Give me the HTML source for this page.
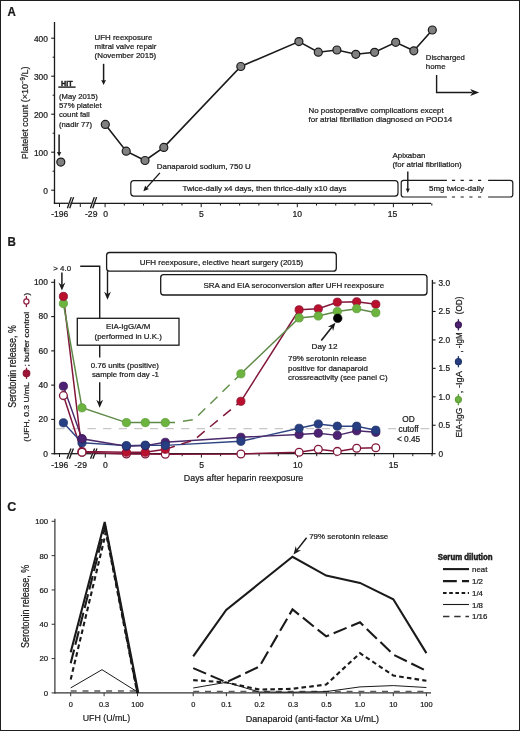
<!DOCTYPE html>
<html><head><meta charset="utf-8"><style>
html,body{margin:0;padding:0;background:#fff;}
svg{display:block;will-change:transform;}
text{font-family:"Liberation Sans", sans-serif;stroke:#1a1a1a;stroke-width:0.22px;}
</style></head><body>
<svg width="520" height="731" viewBox="0 0 520 731" font-family='"Liberation Sans", sans-serif' fill="#1a1a1a">
<rect x="0" y="0" width="520" height="731" fill="#fff"/>
<text x="7.5" y="15.9" font-size="11.9" font-weight="bold" textLength="8.3" lengthAdjust="spacingAndGlyphs" >A</text>
<line x1="54.5" y1="22" x2="54.5" y2="203.9" stroke="#1a1a1a" stroke-width="1.3" />
<line x1="51.2" y1="190.2" x2="54.5" y2="190.2" stroke="#1a1a1a" stroke-width="1.1" />
<text x="47.9" y="193.7" font-size="8.4" text-anchor="end" >0</text>
<line x1="51.2" y1="152.2" x2="54.5" y2="152.2" stroke="#1a1a1a" stroke-width="1.1" />
<text x="47.9" y="155.7" font-size="8.4" text-anchor="end" >100</text>
<line x1="51.2" y1="114.19999999999999" x2="54.5" y2="114.19999999999999" stroke="#1a1a1a" stroke-width="1.1" />
<text x="47.9" y="117.7" font-size="8.4" text-anchor="end" >200</text>
<line x1="51.2" y1="76.19999999999999" x2="54.5" y2="76.19999999999999" stroke="#1a1a1a" stroke-width="1.1" />
<text x="47.9" y="79.7" font-size="8.4" text-anchor="end" >300</text>
<line x1="51.2" y1="38.19999999999999" x2="54.5" y2="38.19999999999999" stroke="#1a1a1a" stroke-width="1.1" />
<text x="47.9" y="41.7" font-size="8.4" text-anchor="end" >400</text>
<line x1="52.6" y1="171.2" x2="54.5" y2="171.2" stroke="#1a1a1a" stroke-width="1.0" />
<line x1="52.6" y1="133.2" x2="54.5" y2="133.2" stroke="#1a1a1a" stroke-width="1.0" />
<line x1="52.6" y1="95.19999999999999" x2="54.5" y2="95.19999999999999" stroke="#1a1a1a" stroke-width="1.0" />
<line x1="52.6" y1="57.19999999999999" x2="54.5" y2="57.19999999999999" stroke="#1a1a1a" stroke-width="1.0" />
<text x="0" y="0" font-size="9.6" transform="translate(28.1 159.2) rotate(-90)" textLength="92.6" lengthAdjust="spacingAndGlyphs">Platelet count (×10<tspan dy="-3.4" font-size="6.6">−9</tspan><tspan dy="3.4">/L)</tspan></text>
<line x1="53.85" y1="203.3" x2="68.6" y2="203.3" stroke="#1a1a1a" stroke-width="1.3" />
<line x1="70.3" y1="203.3" x2="91.6" y2="203.3" stroke="#1a1a1a" stroke-width="1.3" />
<line x1="93.4" y1="203.3" x2="431" y2="203.3" stroke="#1a1a1a" stroke-width="1.3" />
<line x1="67.4" y1="208.3" x2="71.3" y2="197.1" stroke="#1a1a1a" stroke-width="1.35" />
<line x1="69.7" y1="208.3" x2="73.6" y2="197.1" stroke="#1a1a1a" stroke-width="1.35" />
<line x1="90.4" y1="208.3" x2="94.3" y2="197.1" stroke="#1a1a1a" stroke-width="1.35" />
<line x1="92.7" y1="208.3" x2="96.6" y2="197.1" stroke="#1a1a1a" stroke-width="1.35" />
<line x1="59.5" y1="203.3" x2="59.5" y2="207" stroke="#1a1a1a" stroke-width="1.0" />
<line x1="80.3" y1="203.3" x2="80.3" y2="207" stroke="#1a1a1a" stroke-width="1.0" />
<line x1="105.1" y1="203.3" x2="105.1" y2="207.2" stroke="#1a1a1a" stroke-width="1.0" />
<line x1="124.32" y1="203.3" x2="124.32" y2="205.6" stroke="#1a1a1a" stroke-width="1.0" />
<line x1="143.54" y1="203.3" x2="143.54" y2="205.6" stroke="#1a1a1a" stroke-width="1.0" />
<line x1="162.76" y1="203.3" x2="162.76" y2="205.6" stroke="#1a1a1a" stroke-width="1.0" />
<line x1="181.98" y1="203.3" x2="181.98" y2="205.6" stroke="#1a1a1a" stroke-width="1.0" />
<line x1="201.2" y1="203.3" x2="201.2" y2="207.2" stroke="#1a1a1a" stroke-width="1.0" />
<line x1="220.42" y1="203.3" x2="220.42" y2="205.6" stroke="#1a1a1a" stroke-width="1.0" />
<line x1="239.64" y1="203.3" x2="239.64" y2="205.6" stroke="#1a1a1a" stroke-width="1.0" />
<line x1="258.86" y1="203.3" x2="258.86" y2="205.6" stroke="#1a1a1a" stroke-width="1.0" />
<line x1="278.08" y1="203.3" x2="278.08" y2="205.6" stroke="#1a1a1a" stroke-width="1.0" />
<line x1="297.3" y1="203.3" x2="297.3" y2="207.2" stroke="#1a1a1a" stroke-width="1.0" />
<line x1="316.52" y1="203.3" x2="316.52" y2="205.6" stroke="#1a1a1a" stroke-width="1.0" />
<line x1="335.74" y1="203.3" x2="335.74" y2="205.6" stroke="#1a1a1a" stroke-width="1.0" />
<line x1="354.96" y1="203.3" x2="354.96" y2="205.6" stroke="#1a1a1a" stroke-width="1.0" />
<line x1="374.18" y1="203.3" x2="374.18" y2="205.6" stroke="#1a1a1a" stroke-width="1.0" />
<line x1="393.4" y1="203.3" x2="393.4" y2="207.2" stroke="#1a1a1a" stroke-width="1.0" />
<line x1="412.62" y1="203.3" x2="412.62" y2="205.6" stroke="#1a1a1a" stroke-width="1.0" />
<line x1="431.84" y1="203.3" x2="431.84" y2="205.6" stroke="#1a1a1a" stroke-width="1.0" />
<text x="59.8" y="217.2" font-size="8.6" text-anchor="middle" >-196</text>
<text x="91.2" y="217.2" font-size="8.6" text-anchor="middle" >-29</text>
<text x="105.6" y="217.2" font-size="8.6" text-anchor="middle" >0</text>
<text x="201.3" y="217.2" font-size="8.6" text-anchor="middle" >5</text>
<text x="297.3" y="217.2" font-size="8.6" text-anchor="middle" >10</text>
<text x="392.5" y="217.2" font-size="8.6" text-anchor="middle" >15</text>
<text x="94.6" y="39.9" font-size="7.9" textLength="57.7" lengthAdjust="spacingAndGlyphs" >UFH reexposure</text>
<text x="94.6" y="49.2" font-size="7.9" textLength="61.9" lengthAdjust="spacingAndGlyphs" >mitral valve repair</text>
<text x="94.6" y="58.2" font-size="7.9" textLength="61.6" lengthAdjust="spacingAndGlyphs" >(November 2015)</text>
<line x1="103.6" y1="63.8" x2="103.6" y2="82.0" stroke="#1a1a1a" stroke-width="1.5" />
<path d="M103.60,85.00 L101.20,80.00 L103.60,80.40 L106.00,80.00 Z" fill="#1a1a1a"/>
<text x="61" y="85.6" font-size="8.0" font-weight="bold" textLength="11.5" lengthAdjust="spacingAndGlyphs" style="stroke-width:0.45px">HIT</text>
<line x1="58.3" y1="87.1" x2="75.6" y2="87.1" stroke="#1a1a1a" stroke-width="1.4" />
<text x="59" y="98.6" font-size="7.9" textLength="38.9" lengthAdjust="spacingAndGlyphs" >(May 2015)</text>
<text x="59" y="108.0" font-size="7.9" textLength="42.7" lengthAdjust="spacingAndGlyphs" >57% platelet</text>
<text x="59" y="117.3" font-size="7.9" textLength="30.8" lengthAdjust="spacingAndGlyphs" >count fall</text>
<text x="59" y="126.7" font-size="7.9" textLength="33.1" lengthAdjust="spacingAndGlyphs" >(nadir 77)</text>
<line x1="59.1" y1="134.5" x2="59.1" y2="153.84" stroke="#1a1a1a" stroke-width="1.5" />
<path d="M59.10,156.60 L56.90,152.00 L59.10,152.37 L61.30,152.00 Z" fill="#1a1a1a"/>
<polyline points="105.3,124.4 126.2,151.2 145,160.5 163.8,147.4 240.8,66.5 298.9,41.6 318.3,52.2 336.9,50.0 355.8,54.3 374.6,52.3 395.7,42.3 413.8,50.8 432.3,30.0" fill="none" stroke="#1a1a1a" stroke-width="1.6" stroke-linejoin="miter" />
<circle cx="60.8" cy="162.1" r="4" fill="#808080" stroke="#1a1a1a" stroke-width="1.2"/>
<circle cx="105.3" cy="124.4" r="4" fill="#808080" stroke="#1a1a1a" stroke-width="1.2"/>
<circle cx="126.2" cy="151.2" r="4" fill="#808080" stroke="#1a1a1a" stroke-width="1.2"/>
<circle cx="145" cy="160.5" r="4" fill="#808080" stroke="#1a1a1a" stroke-width="1.2"/>
<circle cx="163.8" cy="147.4" r="4" fill="#808080" stroke="#1a1a1a" stroke-width="1.2"/>
<circle cx="240.8" cy="66.5" r="4" fill="#808080" stroke="#1a1a1a" stroke-width="1.2"/>
<circle cx="298.9" cy="41.6" r="4" fill="#808080" stroke="#1a1a1a" stroke-width="1.2"/>
<circle cx="318.3" cy="52.2" r="4" fill="#808080" stroke="#1a1a1a" stroke-width="1.2"/>
<circle cx="336.9" cy="50.0" r="4" fill="#808080" stroke="#1a1a1a" stroke-width="1.2"/>
<circle cx="355.8" cy="54.3" r="4" fill="#808080" stroke="#1a1a1a" stroke-width="1.2"/>
<circle cx="374.6" cy="52.3" r="4" fill="#808080" stroke="#1a1a1a" stroke-width="1.2"/>
<circle cx="395.7" cy="42.3" r="4" fill="#808080" stroke="#1a1a1a" stroke-width="1.2"/>
<circle cx="413.8" cy="50.8" r="4" fill="#808080" stroke="#1a1a1a" stroke-width="1.2"/>
<circle cx="432.3" cy="30.0" r="4" fill="#808080" stroke="#1a1a1a" stroke-width="1.2"/>
<text x="425.8" y="59.7" font-size="7.9" textLength="39.1" lengthAdjust="spacingAndGlyphs" >Discharged</text>
<text x="425.8" y="68.8" font-size="7.9" >home</text>
<polyline points="436.6,75 436.6,92.5 472,92.5" fill="none" stroke="#1a1a1a" stroke-width="1.4" stroke-linejoin="miter" />
<path d="M479.2,92.5 L470.2,89.0 L472.6,92.5 L470.2,96.0 Z" fill="#1a1a1a"/>
<text x="308.5" y="113.1" font-size="7.9" textLength="135.2" lengthAdjust="spacingAndGlyphs" >No postoperative complications except</text>
<text x="308.5" y="122.3" font-size="7.9" textLength="143.8" lengthAdjust="spacingAndGlyphs" >for atrial fibrillation diagnosed on POD14</text>
<text x="156.8" y="169.3" font-size="7.9" >Danaparoid sodium, 750 U</text>
<line x1="159.9" y1="172.9" x2="145.60315379452445" y2="188.84314970792428" stroke="#1a1a1a" stroke-width="1.4" />
<path d="M143.40,191.30 L145.14,185.47 L146.52,187.82 L149.01,188.94 Z" fill="#1a1a1a"/>
<rect x="130.8" y="180.7" width="267.2" height="15.4" rx="3" fill="none" stroke="#1a1a1a" stroke-width="1.2"/>
<text x="182.5" y="191.3" font-size="7.9" textLength="163.9" lengthAdjust="spacingAndGlyphs" >Twice-daily x4 days, then thrice-daily x10 days</text>
<text x="392.5" y="158.0" font-size="7.9" >Apixaban</text>
<text x="392.5" y="166.6" font-size="7.9" textLength="69.2" lengthAdjust="spacingAndGlyphs" >(for atrial fibrillation)</text>
<line x1="407.8" y1="171.5" x2="407.8" y2="190.24" stroke="#1a1a1a" stroke-width="1.4" />
<path d="M407.80,193.00 L405.80,188.40 L407.80,188.77 L409.80,188.40 Z" fill="#1a1a1a"/>
<path d="M446.9,180.3 L403.7,180.3 Q401.2,180.3 401.2,182.8 L401.2,194.5 Q401.2,197.0 403.7,197.0 L446.9,197.0" fill="none" stroke="#1a1a1a" stroke-width="1.2"/>
<path d="M488.1,180.3 L510.29999999999995,180.3 Q512.8,180.3 512.8,182.8 L512.8,194.5 Q512.8,197.0 510.29999999999995,197.0 L488.1,197.0" fill="none" stroke="#1a1a1a" stroke-width="1.2"/>
<path d="M451.9,180.3 H482 M451.9,197.0 H482" fill="none" stroke="#1a1a1a" stroke-width="1.2" stroke-dasharray="3.2 5.5"/>
<text x="429" y="191.3" font-size="7.9" textLength="55" lengthAdjust="spacingAndGlyphs" >5mg twice-daily</text>
<text x="7.4" y="246.1" font-size="12.6" font-weight="bold" textLength="8.4" lengthAdjust="spacingAndGlyphs" >B</text>
<line x1="54.5" y1="279.2" x2="54.5" y2="454.34999999999997" stroke="#1a1a1a" stroke-width="1.3" />
<line x1="51.2" y1="453.7" x2="54.5" y2="453.7" stroke="#1a1a1a" stroke-width="1.1" />
<text x="47.9" y="456.6" font-size="8.4" text-anchor="end" >0</text>
<line x1="51.2" y1="419.42" x2="54.5" y2="419.42" stroke="#1a1a1a" stroke-width="1.1" />
<text x="47.9" y="422.32" font-size="8.4" text-anchor="end" >20</text>
<line x1="51.2" y1="385.14" x2="54.5" y2="385.14" stroke="#1a1a1a" stroke-width="1.1" />
<text x="47.9" y="388.04" font-size="8.4" text-anchor="end" >40</text>
<line x1="51.2" y1="350.86" x2="54.5" y2="350.86" stroke="#1a1a1a" stroke-width="1.1" />
<text x="47.9" y="353.76" font-size="8.4" text-anchor="end" >60</text>
<line x1="51.2" y1="316.58" x2="54.5" y2="316.58" stroke="#1a1a1a" stroke-width="1.1" />
<text x="47.9" y="319.48" font-size="8.4" text-anchor="end" >80</text>
<line x1="51.2" y1="282.3" x2="54.5" y2="282.3" stroke="#1a1a1a" stroke-width="1.1" />
<text x="47.9" y="285.2" font-size="8.4" text-anchor="end" >100</text>
<line x1="432.4" y1="279.9" x2="432.4" y2="454.34999999999997" stroke="#1a1a1a" stroke-width="1.3" />
<line x1="432.4" y1="453.7" x2="435.59999999999997" y2="453.7" stroke="#1a1a1a" stroke-width="1.1" />
<text x="438.5" y="456.65" font-size="8.3" >0</text>
<line x1="432.4" y1="425.25" x2="435.59999999999997" y2="425.25" stroke="#1a1a1a" stroke-width="1.1" />
<text x="438.5" y="428.2" font-size="8.3" >0.5</text>
<line x1="432.4" y1="396.8" x2="435.59999999999997" y2="396.8" stroke="#1a1a1a" stroke-width="1.1" />
<text x="438.5" y="399.75" font-size="8.3" >1.0</text>
<line x1="432.4" y1="368.35" x2="435.59999999999997" y2="368.35" stroke="#1a1a1a" stroke-width="1.1" />
<text x="438.5" y="371.3" font-size="8.3" >1.5</text>
<line x1="432.4" y1="339.9" x2="435.59999999999997" y2="339.9" stroke="#1a1a1a" stroke-width="1.1" />
<text x="438.5" y="342.85" font-size="8.3" >2.0</text>
<line x1="432.4" y1="311.45" x2="435.59999999999997" y2="311.45" stroke="#1a1a1a" stroke-width="1.1" />
<text x="438.5" y="314.4" font-size="8.3" >2.5</text>
<line x1="432.4" y1="283.0" x2="435.59999999999997" y2="283.0" stroke="#1a1a1a" stroke-width="1.1" />
<text x="438.5" y="285.95" font-size="8.3" >3.0</text>
<line x1="53.85" y1="453.7" x2="68.6" y2="453.7" stroke="#1a1a1a" stroke-width="1.3" />
<line x1="70.3" y1="453.7" x2="91.6" y2="453.7" stroke="#1a1a1a" stroke-width="1.3" />
<line x1="93.4" y1="453.7" x2="432.4" y2="453.7" stroke="#1a1a1a" stroke-width="1.3" />
<line x1="67.0" y1="458.8" x2="71.0" y2="448.5" stroke="#1a1a1a" stroke-width="1.35" />
<line x1="69.4" y1="458.8" x2="73.4" y2="448.5" stroke="#1a1a1a" stroke-width="1.35" />
<line x1="90.5" y1="458.8" x2="94.6" y2="448.5" stroke="#1a1a1a" stroke-width="1.35" />
<line x1="92.9" y1="458.8" x2="97.0" y2="448.5" stroke="#1a1a1a" stroke-width="1.35" />
<line x1="59.5" y1="453.7" x2="59.5" y2="457" stroke="#1a1a1a" stroke-width="1.0" />
<line x1="105.3" y1="453.7" x2="105.3" y2="457.6" stroke="#1a1a1a" stroke-width="1.0" />
<line x1="124.52" y1="453.7" x2="124.52" y2="456.2" stroke="#1a1a1a" stroke-width="1.0" />
<line x1="143.74" y1="453.7" x2="143.74" y2="456.2" stroke="#1a1a1a" stroke-width="1.0" />
<line x1="162.96" y1="453.7" x2="162.96" y2="456.2" stroke="#1a1a1a" stroke-width="1.0" />
<line x1="182.18" y1="453.7" x2="182.18" y2="456.2" stroke="#1a1a1a" stroke-width="1.0" />
<line x1="201.4" y1="453.7" x2="201.4" y2="457.6" stroke="#1a1a1a" stroke-width="1.0" />
<line x1="220.62" y1="453.7" x2="220.62" y2="456.2" stroke="#1a1a1a" stroke-width="1.0" />
<line x1="239.84" y1="453.7" x2="239.84" y2="456.2" stroke="#1a1a1a" stroke-width="1.0" />
<line x1="259.06" y1="453.7" x2="259.06" y2="456.2" stroke="#1a1a1a" stroke-width="1.0" />
<line x1="278.28" y1="453.7" x2="278.28" y2="456.2" stroke="#1a1a1a" stroke-width="1.0" />
<line x1="297.5" y1="453.7" x2="297.5" y2="457.6" stroke="#1a1a1a" stroke-width="1.0" />
<line x1="316.72" y1="453.7" x2="316.72" y2="456.2" stroke="#1a1a1a" stroke-width="1.0" />
<line x1="335.94" y1="453.7" x2="335.94" y2="456.2" stroke="#1a1a1a" stroke-width="1.0" />
<line x1="355.16" y1="453.7" x2="355.16" y2="456.2" stroke="#1a1a1a" stroke-width="1.0" />
<line x1="374.38" y1="453.7" x2="374.38" y2="456.2" stroke="#1a1a1a" stroke-width="1.0" />
<line x1="393.6" y1="453.7" x2="393.6" y2="457.6" stroke="#1a1a1a" stroke-width="1.0" />
<line x1="412.82" y1="453.7" x2="412.82" y2="456.2" stroke="#1a1a1a" stroke-width="1.0" />
<line x1="432.04" y1="453.7" x2="432.04" y2="456.2" stroke="#1a1a1a" stroke-width="1.0" />
<text x="59.8" y="467.8" font-size="8.6" text-anchor="middle" >-196</text>
<text x="80.7" y="467.8" font-size="8.6" text-anchor="middle" >-29</text>
<text x="105.3" y="467.8" font-size="8.6" text-anchor="middle" >0</text>
<text x="201.6" y="467.8" font-size="8.6" text-anchor="middle" >5</text>
<text x="297.8" y="467.8" font-size="8.6" text-anchor="middle" >10</text>
<text x="393.5" y="467.8" font-size="8.6" text-anchor="middle" >15</text>
<text x="183.8" y="481.3" font-size="9.9" textLength="119.5" lengthAdjust="spacingAndGlyphs" >Days after heparin reexposure</text>
<text x="0" y="0" font-size="10.2" transform="translate(16.0 407.8) rotate(-90)" textLength="82.6" lengthAdjust="spacingAndGlyphs">Serotonin release, %</text>
<text x="0" y="0" font-size="8.0" transform="translate(29.3 441.7) rotate(-90)" textLength="59.4" lengthAdjust="spacingAndGlyphs">(UFH, 0.3 U/mL</text>
<text x="0" y="0" font-size="8.0" transform="translate(29.3 366.4) rotate(-90)" textLength="54.6" lengthAdjust="spacingAndGlyphs">; buffer control</text>
<text x="0" y="0" font-size="8.0" transform="translate(29.3 295.4) rotate(-90)">)</text>
<line x1="26.5" y1="367.7" x2="26.5" y2="378.90000000000003" stroke="#8a1534" stroke-width="1.3" />
<circle cx="26.5" cy="373.3" r="3.3" fill="#a01434" stroke="#8a1534" stroke-width="1.2"/>
<line x1="26.4" y1="295.9" x2="26.4" y2="307.1" stroke="#8e1f40" stroke-width="1.3" />
<circle cx="26.4" cy="301.5" r="2.6" fill="#fff" stroke="#8e1f40" stroke-width="1.2"/>
<text x="0" y="0" font-size="8.5" transform="translate(462 437.6) rotate(-90)" textLength="29.8" lengthAdjust="spacingAndGlyphs">EIA-IgG</text>
<text x="0" y="0" font-size="8.5" transform="translate(462 393.2) rotate(-90)" textLength="22" lengthAdjust="spacingAndGlyphs">, -IgA</text>
<text x="0" y="0" font-size="8.5" transform="translate(462 352.6) rotate(-90)" textLength="20.2" lengthAdjust="spacingAndGlyphs">, -IgM</text>
<text x="0" y="0" font-size="8.5" transform="translate(462 314.2) rotate(-90)" textLength="17.6" lengthAdjust="spacingAndGlyphs">(OD)</text>
<line x1="458.4" y1="394.0" x2="458.4" y2="405.20000000000005" stroke="#5f9e3a" stroke-width="1.3" />
<circle cx="458.4" cy="399.6" r="3.0" fill="#6cb33f" stroke="#5f9e3a" stroke-width="1.2"/>
<line x1="458.4" y1="356.09999999999997" x2="458.4" y2="367.3" stroke="#1f3469" stroke-width="1.3" />
<circle cx="458.4" cy="361.7" r="3.0" fill="#273f82" stroke="#1f3469" stroke-width="1.2"/>
<line x1="458.4" y1="319.2" x2="458.4" y2="330.40000000000003" stroke="#3b1958" stroke-width="1.3" />
<circle cx="458.4" cy="324.8" r="3.0" fill="#4d2272" stroke="#3b1958" stroke-width="1.2"/>
<path d="M56.3,428.7 H372" stroke="#c8c8c8" stroke-width="1.3" stroke-dasharray="8.3 7.3" fill="none"/>
<path d="M388.2,428.7 H396.2 M420.5,428.7 H429.2" stroke="#c8c8c8" stroke-width="1.3" fill="none"/>
<text x="408.6" y="421.9" font-size="8.3" text-anchor="middle" >OD</text>
<text x="408.6" y="431.9" font-size="8.3" text-anchor="middle" >cutoff</text>
<text x="408.6" y="441.9" font-size="8.3" text-anchor="middle" >&lt; 0.45</text>
<polyline points="80.2,266.3 99.7,266.3 99.7,318.2" fill="none" stroke="#1a1a1a" stroke-width="1.4" stroke-linejoin="miter" />
<line x1="99.7" y1="345" x2="99.7" y2="357.5" stroke="#1a1a1a" stroke-width="1.4" />
<line x1="99.7" y1="382.2" x2="99.7" y2="403.0" stroke="#1a1a1a" stroke-width="1.4" />
<path d="M99.70,407.80 L96.30,399.80 L99.70,402.36 L103.10,399.80 Z" fill="#1a1a1a"/>
<rect x="77.3" y="318.3" width="101.7" height="26.9" fill="#fff" stroke="#1a1a1a" stroke-width="1.3"/>
<text x="128.2" y="328.9" font-size="7.9" text-anchor="middle" textLength="44.5" lengthAdjust="spacingAndGlyphs" >EIA-IgG/A/M</text>
<text x="128.2" y="338.9" font-size="7.9" text-anchor="middle" textLength="67.2" lengthAdjust="spacingAndGlyphs" >(performed in U.K.)</text>
<text x="124.9" y="367.7" font-size="7.9" text-anchor="middle" textLength="68.1" lengthAdjust="spacingAndGlyphs" >0.76 units (positive)</text>
<text x="125.4" y="377.4" font-size="7.9" text-anchor="middle" textLength="67" lengthAdjust="spacingAndGlyphs" >sample from day -1</text>
<text x="62.2" y="270.7" font-size="7.9" text-anchor="middle" >&gt; 4.0</text>
<line x1="61.9" y1="272.6" x2="61.9" y2="285.8" stroke="#1a1a1a" stroke-width="1.5" />
<path d="M61.90,290.60 L58.50,282.60 L61.90,285.16 L65.30,282.60 Z" fill="#1a1a1a"/>
<rect x="106.6" y="252.5" width="229.7" height="18.7" rx="3" fill="#fff" stroke="#1a1a1a" stroke-width="1.3"/>
<text x="221.5" y="264.5" font-size="7.9" text-anchor="middle" textLength="163.5" lengthAdjust="spacingAndGlyphs" >UFH reexposure, elective heart surgery (2015)</text>
<line x1="107.5" y1="271.2" x2="107.5" y2="295.0" stroke="#1a1a1a" stroke-width="1.4" />
<path d="M107.50,299.80 L104.10,291.80 L107.50,294.36 L110.90,291.80 Z" fill="#1a1a1a"/>
<rect x="160.7" y="274.7" width="266.3" height="20.3" rx="3" fill="#fff" stroke="#1a1a1a" stroke-width="1.3"/>
<text x="293.8" y="287.6" font-size="7.9" text-anchor="middle" textLength="180.7" lengthAdjust="spacingAndGlyphs" >SRA and EIA seroconversion after UFH reexposure</text>
<text x="324.5" y="348.9" font-size="7.9" text-anchor="middle" textLength="26" lengthAdjust="spacingAndGlyphs" >Day 12</text>
<line x1="321.3" y1="340.4" x2="332.409230368668" y2="326.4543703882678" stroke="#1a1a1a" stroke-width="1.6" />
<path d="M335.40,322.70 L333.07,331.08 L332.01,326.95 L327.76,326.84 Z" fill="#1a1a1a"/>
<text x="288.1" y="361.3" font-size="7.9" >79% serotonin release</text>
<text x="288.1" y="370.6" font-size="7.9" >positive for danaparoid</text>
<text x="288.1" y="379.8" font-size="7.9" >crossreactivity (see panel C)</text>
<polyline points="63.4,395.6 82.0,452.3 126.4,454.0 145.3,454.0 165.3,454.2 240.9,454.0 299.1,452.3 318.3,449.2 337.3,451.4 356.7,448.3 375.8,447.8" fill="none" stroke="#82163a" stroke-width="1.5" stroke-linejoin="miter" />
<polyline points="63.4,422.8 82.0,442.8 126.4,445.6 145.3,445.2 165.3,445.4 240.9,441.3 299.1,428.3 318.3,424.0 337.3,426.2 356.7,426.2 375.8,430.2" fill="none" stroke="#2f4583" stroke-width="1.4" stroke-linejoin="miter" />
<polyline points="63.4,386.2 82.0,438.8 126.4,446.3 145.3,445.6 165.3,442.3 240.9,437.3 299.1,434.5 318.3,433.2 337.3,435.4 356.7,430.8 375.8,432.3" fill="none" stroke="#4b2a6c" stroke-width="1.4" stroke-linejoin="miter" />
<polyline points="63.4,296.4 82.0,451.5 126.4,452.3 145.3,452.3 165.3,449.3" fill="none" stroke="#82163a" stroke-width="1.5" stroke-linejoin="miter" />
<polyline points="240.9,401.3 299.1,309.8 318.3,308.8 337.3,302.2 356.7,301.8 375.8,304.3" fill="none" stroke="#82163a" stroke-width="1.5" stroke-linejoin="miter" />
<polyline points="165.3,449.3 194,440 240.9,401.3" fill="none" stroke="#801a3c" stroke-width="1.5" stroke-linejoin="miter" stroke-dasharray="10 7"/>
<polyline points="63.4,303.5 82.0,407.8 126.4,422.6 145.3,422.6 165.3,422.6 175,422.4" fill="none" stroke="#5e8a47" stroke-width="1.5" stroke-linejoin="miter" />
<polyline points="175,422.4 194,419.6 240.9,373.8" fill="none" stroke="#63904c" stroke-width="1.5" stroke-linejoin="miter" stroke-dasharray="0 8 10 7 10 7 10 7 10 7 10 7"/>
<polyline points="240.9,373.8 299.1,317.9 318.3,316.0 337.3,311.5 356.7,308.7 375.8,312.7" fill="none" stroke="#5e8a47" stroke-width="1.5" stroke-linejoin="miter" />
<circle cx="63.4" cy="395.6" r="3.9" fill="#fff" stroke="#82163a" stroke-width="1.3"/>
<circle cx="82.0" cy="452.3" r="3.9" fill="#fff" stroke="#82163a" stroke-width="1.3"/>
<circle cx="126.4" cy="454.0" r="3.9" fill="#fff" stroke="#82163a" stroke-width="1.3"/>
<circle cx="145.3" cy="454.0" r="3.9" fill="#fff" stroke="#82163a" stroke-width="1.3"/>
<circle cx="165.3" cy="454.2" r="3.9" fill="#fff" stroke="#82163a" stroke-width="1.3"/>
<circle cx="240.9" cy="454.0" r="3.9" fill="#fff" stroke="#82163a" stroke-width="1.3"/>
<circle cx="299.1" cy="452.3" r="3.9" fill="#fff" stroke="#82163a" stroke-width="1.3"/>
<circle cx="318.3" cy="449.2" r="3.9" fill="#fff" stroke="#82163a" stroke-width="1.3"/>
<circle cx="337.3" cy="451.4" r="3.9" fill="#fff" stroke="#82163a" stroke-width="1.3"/>
<circle cx="356.7" cy="448.3" r="3.9" fill="#fff" stroke="#82163a" stroke-width="1.3"/>
<circle cx="375.8" cy="447.8" r="3.9" fill="#fff" stroke="#82163a" stroke-width="1.3"/>
<circle cx="82.0" cy="451.5" r="4.1" fill="#b8102d" stroke="#8c1434" stroke-width="0.8"/>
<circle cx="126.4" cy="452.3" r="4.1" fill="#b8102d" stroke="#8c1434" stroke-width="0.8"/>
<circle cx="145.3" cy="452.3" r="4.1" fill="#b8102d" stroke="#8c1434" stroke-width="0.8"/>
<circle cx="165.3" cy="449.3" r="4.1" fill="#b8102d" stroke="#8c1434" stroke-width="0.8"/>
<circle cx="240.9" cy="401.3" r="4.1" fill="#b8102d" stroke="#8c1434" stroke-width="0.8"/>
<circle cx="299.1" cy="309.8" r="4.1" fill="#b8102d" stroke="#8c1434" stroke-width="0.8"/>
<circle cx="318.3" cy="308.8" r="4.1" fill="#b8102d" stroke="#8c1434" stroke-width="0.8"/>
<circle cx="337.3" cy="302.2" r="4.1" fill="#b8102d" stroke="#8c1434" stroke-width="0.8"/>
<circle cx="356.7" cy="301.8" r="4.1" fill="#b8102d" stroke="#8c1434" stroke-width="0.8"/>
<circle cx="375.8" cy="304.3" r="4.1" fill="#b8102d" stroke="#8c1434" stroke-width="0.8"/>
<circle cx="63.4" cy="386.2" r="4.1" fill="#4d2272" stroke="#3b1958" stroke-width="0.8"/>
<circle cx="82.0" cy="438.8" r="4.1" fill="#4d2272" stroke="#3b1958" stroke-width="0.8"/>
<circle cx="126.4" cy="446.3" r="4.1" fill="#4d2272" stroke="#3b1958" stroke-width="0.8"/>
<circle cx="145.3" cy="445.6" r="4.1" fill="#4d2272" stroke="#3b1958" stroke-width="0.8"/>
<circle cx="165.3" cy="442.3" r="4.1" fill="#4d2272" stroke="#3b1958" stroke-width="0.8"/>
<circle cx="240.9" cy="437.3" r="4.1" fill="#4d2272" stroke="#3b1958" stroke-width="0.8"/>
<circle cx="299.1" cy="434.5" r="4.1" fill="#4d2272" stroke="#3b1958" stroke-width="0.8"/>
<circle cx="318.3" cy="433.2" r="4.1" fill="#4d2272" stroke="#3b1958" stroke-width="0.8"/>
<circle cx="337.3" cy="435.4" r="4.1" fill="#4d2272" stroke="#3b1958" stroke-width="0.8"/>
<circle cx="356.7" cy="430.8" r="4.1" fill="#4d2272" stroke="#3b1958" stroke-width="0.8"/>
<circle cx="375.8" cy="432.3" r="4.1" fill="#4d2272" stroke="#3b1958" stroke-width="0.8"/>
<circle cx="63.4" cy="422.8" r="4.1" fill="#273f82" stroke="#1f3469" stroke-width="0.8"/>
<circle cx="82.0" cy="442.8" r="4.1" fill="#273f82" stroke="#1f3469" stroke-width="0.8"/>
<circle cx="126.4" cy="445.6" r="4.1" fill="#273f82" stroke="#1f3469" stroke-width="0.8"/>
<circle cx="145.3" cy="445.2" r="4.1" fill="#273f82" stroke="#1f3469" stroke-width="0.8"/>
<circle cx="165.3" cy="445.4" r="4.1" fill="#273f82" stroke="#1f3469" stroke-width="0.8"/>
<circle cx="240.9" cy="441.3" r="4.1" fill="#273f82" stroke="#1f3469" stroke-width="0.8"/>
<circle cx="299.1" cy="428.3" r="4.1" fill="#273f82" stroke="#1f3469" stroke-width="0.8"/>
<circle cx="318.3" cy="424.0" r="4.1" fill="#273f82" stroke="#1f3469" stroke-width="0.8"/>
<circle cx="337.3" cy="426.2" r="4.1" fill="#273f82" stroke="#1f3469" stroke-width="0.8"/>
<circle cx="356.7" cy="426.2" r="4.1" fill="#273f82" stroke="#1f3469" stroke-width="0.8"/>
<circle cx="375.8" cy="430.2" r="4.1" fill="#273f82" stroke="#1f3469" stroke-width="0.8"/>
<circle cx="63.4" cy="303.5" r="4.1" fill="#6cb33f" stroke="#5f9e3a" stroke-width="0.8"/>
<circle cx="82.0" cy="407.8" r="4.1" fill="#6cb33f" stroke="#5f9e3a" stroke-width="0.8"/>
<circle cx="126.4" cy="422.6" r="4.1" fill="#6cb33f" stroke="#5f9e3a" stroke-width="0.8"/>
<circle cx="145.3" cy="422.6" r="4.1" fill="#6cb33f" stroke="#5f9e3a" stroke-width="0.8"/>
<circle cx="165.3" cy="422.6" r="4.1" fill="#6cb33f" stroke="#5f9e3a" stroke-width="0.8"/>
<circle cx="240.9" cy="373.8" r="4.1" fill="#6cb33f" stroke="#5f9e3a" stroke-width="0.8"/>
<circle cx="299.1" cy="317.9" r="4.1" fill="#6cb33f" stroke="#5f9e3a" stroke-width="0.8"/>
<circle cx="318.3" cy="316.0" r="4.1" fill="#6cb33f" stroke="#5f9e3a" stroke-width="0.8"/>
<circle cx="337.3" cy="311.5" r="4.1" fill="#6cb33f" stroke="#5f9e3a" stroke-width="0.8"/>
<circle cx="356.7" cy="308.7" r="4.1" fill="#6cb33f" stroke="#5f9e3a" stroke-width="0.8"/>
<circle cx="375.8" cy="312.7" r="4.1" fill="#6cb33f" stroke="#5f9e3a" stroke-width="0.8"/>
<circle cx="63.4" cy="296.4" r="4.1" fill="#b8102d" stroke="#8c1434" stroke-width="0.8"/>
<circle cx="82.0" cy="438.8" r="4.1" fill="#4d2272" stroke="#3b1958" stroke-width="0.8"/>
<circle cx="82.0" cy="452.3" r="3.9" fill="#fff" stroke="#82163a" stroke-width="1.3"/>
<circle cx="337.7" cy="318.3" r="4.3" fill="#000" stroke="#000" stroke-width="0.6"/>
<text x="7.2" y="511.2" font-size="12.5" font-weight="bold" >C</text>
<line x1="54.9" y1="518.8" x2="54.9" y2="693.5" stroke="#333" stroke-width="1.2" />
<line x1="51.6" y1="692.9" x2="54.9" y2="692.9" stroke="#333" stroke-width="1.0" />
<text x="48.2" y="695.8" font-size="7.8" text-anchor="end" >0</text>
<line x1="51.6" y1="658.58" x2="54.9" y2="658.58" stroke="#333" stroke-width="1.0" />
<text x="48.2" y="661.48" font-size="7.8" text-anchor="end" >20</text>
<line x1="51.6" y1="624.26" x2="54.9" y2="624.26" stroke="#333" stroke-width="1.0" />
<text x="48.2" y="627.16" font-size="7.8" text-anchor="end" >40</text>
<line x1="51.6" y1="589.94" x2="54.9" y2="589.94" stroke="#333" stroke-width="1.0" />
<text x="48.2" y="592.84" font-size="7.8" text-anchor="end" >60</text>
<line x1="51.6" y1="555.62" x2="54.9" y2="555.62" stroke="#333" stroke-width="1.0" />
<text x="48.2" y="558.52" font-size="7.8" text-anchor="end" >80</text>
<line x1="51.6" y1="521.3" x2="54.9" y2="521.3" stroke="#333" stroke-width="1.0" />
<text x="48.2" y="524.2" font-size="7.8" text-anchor="end" >100</text>
<line x1="54.3" y1="692.9" x2="431" y2="692.9" stroke="#333" stroke-width="1.2" />
<line x1="70.7" y1="692.9" x2="70.7" y2="696.2" stroke="#333" stroke-width="1.0" />
<line x1="104.1" y1="692.9" x2="104.1" y2="696.2" stroke="#333" stroke-width="1.0" />
<line x1="137.5" y1="692.9" x2="137.5" y2="696.2" stroke="#333" stroke-width="1.0" />
<line x1="193.2" y1="692.9" x2="193.2" y2="696.2" stroke="#333" stroke-width="1.0" />
<line x1="226.4" y1="692.9" x2="226.4" y2="696.2" stroke="#333" stroke-width="1.0" />
<line x1="259.6" y1="692.9" x2="259.6" y2="696.2" stroke="#333" stroke-width="1.0" />
<line x1="293.1" y1="692.9" x2="293.1" y2="696.2" stroke="#333" stroke-width="1.0" />
<line x1="326.4" y1="692.9" x2="326.4" y2="696.2" stroke="#333" stroke-width="1.0" />
<line x1="360.0" y1="692.9" x2="360.0" y2="696.2" stroke="#333" stroke-width="1.0" />
<line x1="393.3" y1="692.9" x2="393.3" y2="696.2" stroke="#333" stroke-width="1.0" />
<line x1="426.4" y1="692.9" x2="426.4" y2="696.2" stroke="#333" stroke-width="1.0" />
<text x="70.7" y="707.0" font-size="7.4" text-anchor="middle" >0</text>
<text x="104.1" y="707.0" font-size="7.4" text-anchor="middle" >0.3</text>
<text x="137.5" y="707.0" font-size="7.4" text-anchor="middle" >100</text>
<text x="193.2" y="707.0" font-size="7.4" text-anchor="middle" >0</text>
<text x="226.4" y="707.0" font-size="7.4" text-anchor="middle" >0.1</text>
<text x="259.6" y="707.0" font-size="7.4" text-anchor="middle" >0.2</text>
<text x="293.1" y="707.0" font-size="7.4" text-anchor="middle" >0.3</text>
<text x="326.4" y="707.0" font-size="7.4" text-anchor="middle" >0.5</text>
<text x="360.0" y="707.0" font-size="7.4" text-anchor="middle" >1.0</text>
<text x="393.3" y="707.0" font-size="7.4" text-anchor="middle" >10</text>
<text x="426.4" y="707.0" font-size="7.4" text-anchor="middle" >100</text>
<text x="82.7" y="721.0" font-size="9.8" textLength="47.5" lengthAdjust="spacingAndGlyphs" >UFH (U/mL)</text>
<text x="245.8" y="721.7" font-size="9.1" textLength="133.2" lengthAdjust="spacingAndGlyphs" >Danaparoid (anti-factor Xa U/mL)</text>
<text x="0" y="0" font-size="10.5" transform="translate(28.7 648) rotate(-90)" textLength="83.2" lengthAdjust="spacingAndGlyphs">Serotonin release, %</text>
<polyline points="70.7,690.9 137.5,690.9" fill="none" stroke="#5a5a5a" stroke-width="1.5" stroke-linejoin="miter" stroke-dasharray="6 5.8"/>
<polyline points="70.7,687.9 102.0,669.7 137.5,692.0" fill="none" stroke="#1a1a1a" stroke-width="1.0" stroke-linejoin="miter" />
<polyline points="70.7,679.4 105.9,532.5 137.3,693.0" fill="none" stroke="#1a1a1a" stroke-width="2.1" stroke-linejoin="miter" stroke-dasharray="4.6 3.2"/>
<polyline points="70.7,663.2 105.2,526.5 137.5,693.0" fill="none" stroke="#1a1a1a" stroke-width="2.1" stroke-linejoin="miter" stroke-dasharray="14 5"/>
<polyline points="70.7,652.3 104.7,521.9 138.3,693.0" fill="none" stroke="#1a1a1a" stroke-width="2.1" stroke-linejoin="miter" />
<polyline points="193.2,691.6 426.4,691.6" fill="none" stroke="#5a5a5a" stroke-width="1.5" stroke-linejoin="miter" stroke-dasharray="6 5.8"/>
<polyline points="193.2,688.0 226.2,682.3 259.4,692.0 292.5,692.2 326.2,691.6 360.0,686.9 393.3,685.6 426.4,687.5" fill="none" stroke="#1a1a1a" stroke-width="1.0" stroke-linejoin="miter" />
<polyline points="193.2,680.1 226.2,682.5 259.4,689.6 292.5,688.8 326.2,684.5 360.0,653.2 393.3,675.5 426.4,680.8" fill="none" stroke="#1a1a1a" stroke-width="2.1" stroke-linejoin="miter" stroke-dasharray="4.6 3.2"/>
<polyline points="193.2,668.1 226.2,682.3 259.4,666.6 292.5,609.4 326.2,636.4 360.0,622.3 393.3,654.6 426.4,670.9" fill="none" stroke="#1a1a1a" stroke-width="2.1" stroke-linejoin="miter" stroke-dasharray="14 5"/>
<polyline points="193.2,656.4 226.2,610.0 259.4,583.3 292.5,556.8 326.2,575.6 360.0,582.9 393.3,599.2 426.4,653.1" fill="none" stroke="#1a1a1a" stroke-width="2.1" stroke-linejoin="miter" />
<text x="309.2" y="538.7" font-size="7.9" textLength="79.1" lengthAdjust="spacingAndGlyphs" >79% serotonin release</text>
<line x1="306.6" y1="537.8" x2="296.47355655710396" y2="550.6319817673339" stroke="#1a1a1a" stroke-width="1.5" />
<path d="M293.50,554.40 L295.79,546.01 L296.87,550.13 L301.12,550.23 Z" fill="#1a1a1a"/>
<text x="437.8" y="560.3" font-size="8.2" font-weight="bold" textLength="54.8" lengthAdjust="spacingAndGlyphs" style="stroke-width:0.5px">Serum dilution</text>
<line x1="443" y1="569.1" x2="469" y2="569.1" stroke="#1a1a1a" stroke-width="2.1" />
<path d="M443,581.1 H469" stroke="#1a1a1a" stroke-width="2.1" stroke-dasharray="13.8 5.2"/>
<path d="M443,593.0 H469" stroke="#1a1a1a" stroke-width="2.1" stroke-dasharray="3.6 2.6"/>
<line x1="443" y1="604.5" x2="469" y2="604.5" stroke="#1a1a1a" stroke-width="1.1" />
<path d="M443,616.5 H469" stroke="#333" stroke-width="1.5" stroke-dasharray="6.4 4.8"/>
<text x="472" y="572.3" font-size="7.9" >neat</text>
<text x="472" y="584.1" font-size="7.9" >1/2</text>
<text x="472" y="595.7" font-size="7.9" >1/4</text>
<text x="472" y="607.8" font-size="7.9" >1/8</text>
<text x="472" y="619.4" font-size="7.9" >1/16</text>
<rect x="0.5" y="0.5" width="519" height="730" fill="none" stroke="#1e1e1e" stroke-width="1"/>
</svg>
</body></html>
